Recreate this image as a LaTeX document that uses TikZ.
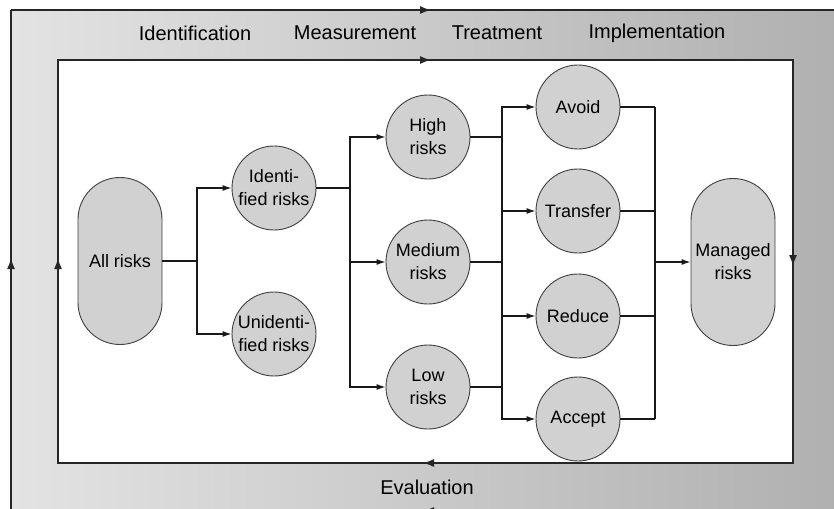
\documentclass[tikz,border=0pt]{standalone}
\usepackage{fontspec}
\setmainfont{Liberation Sans}
\usetikzlibrary{arrows.meta}
\definecolor{bgL}{gray}{0.89}
\definecolor{bgR}{gray}{0.69}
\definecolor{nodefill}{gray}{0.82}
\tikzset{
  arr/.style={-{Latex[length=9pt,width=6pt]}},
  farr/.style={-{Latex[length=11pt,width=8pt]}},
  conn/.style={line width=1.2pt,black!90},
  frameline/.style={line width=1.5pt,black!85},
  riskcircle/.style={circle,draw=black!75,line width=0.9pt,fill=nodefill,
    minimum size=84pt,inner sep=0pt,align=center,
    font=\fontsize{18}{23}\selectfont},
  stadium/.style={rectangle,rounded corners=41.9pt,draw=black!75,line width=0.9pt,
    fill=nodefill,minimum width=84pt,minimum height=167pt,inner sep=0pt,align=center,
    font=\fontsize{18}{23}\selectfont},
  phase/.style={font=\fontsize{20}{24}\selectfont,inner sep=0pt}
}
\begin{document}
\begin{tikzpicture}[x=1pt,y=-1pt]
\useasboundingbox (0,0) rectangle (834,508);
\clip (0,0) rectangle (834,508);
% background band
\shade[left color=bgL,right color=bgR] (11,10) rectangle (840,515);
\fill[white] (58,60) rectangle (793,463);
% outer frame
\draw[frameline] (11,10) -- (840,10);
\draw[frameline] (11,515) -- (11,10);
\draw[frameline] (840,511) -- (11,511);
\draw[frameline,farr] (415,10) -- (431,10);
\draw[frameline,farr] (11,275) -- (11,258);
\draw[frameline,farr] (440,511) -- (423,511);
% inner frame
\draw[frameline] (58,60) rectangle (793,463);
\draw[frameline,farr] (415,60) -- (431,60);
\draw[frameline,farr] (793,248) -- (793,266);
\draw[frameline,farr] (440,463) -- (423,463);
\draw[frameline,farr] (58,275) -- (58,258);
% phase labels
\node[phase] (lid) at (195,33) {Identification};
\node[phase] (lme) at (355,33) {Measurement};
\node[phase] (ltr) at (497,33) {Treatment};
\node[phase] (lim) at (657,33) {Implementation};
\node[phase] (lev) at (427,487) {Evaluation};
% nodes
\node[stadium] (all) at (120,261) {All risks};
\node[riskcircle] (ident) at (274,188) {Identi-\\fied risks};
\node[riskcircle] (unident) at (274,334) {Unidenti-\\fied risks};
\node[riskcircle] (high) at (428,137) {High\\risks};
\node[riskcircle] (medium) at (428,262) {Medium\\risks};
\node[riskcircle] (low) at (428,387) {Low\\risks};
\node[riskcircle] (avoid) at (578,107) {Avoid};
\node[riskcircle] (transfer) at (578,211) {Transfer};
\node[riskcircle] (reduce) at (578,316) {Reduce};
\node[riskcircle] (accept) at (578,419) {Accept};
\node[stadium] (managed) at (733,262) {Managed\\risks};
% junctions
\coordinate (j1) at (197,261);
\coordinate (j2) at (350,188);
\coordinate (j3) at (502,262);
\coordinate (j4) at (655,262);
% connectors
\draw[conn] (all) -- (j1);
\draw[conn,arr] (j1) |- (ident);
\draw[conn,arr] (j1) |- (unident);
\draw[conn] (ident) -- (j2);
\draw[conn,arr] (j2) |- (high);
\draw[conn,arr] (j2) |- (medium);
\draw[conn,arr] (j2) |- (low);
\draw[conn] (high) -- (high -| j3);
\draw[conn] (medium) -- (medium -| j3);
\draw[conn] (low) -- (low -| j3);
\draw[conn,arr] (j3) |- (avoid);
\draw[conn,arr] (j3) |- (transfer);
\draw[conn,arr] (j3) |- (reduce);
\draw[conn,arr] (j3) |- (accept);
\draw[conn] (avoid) -- (avoid -| j4);
\draw[conn] (transfer) -- (transfer -| j4);
\draw[conn] (reduce) -- (reduce -| j4);
\draw[conn] (accept) -- (accept -| j4);
\draw[conn] (avoid -| j4) -- (accept -| j4);
\draw[conn,arr] (j4) -- (managed);
\end{tikzpicture}
\end{document}
